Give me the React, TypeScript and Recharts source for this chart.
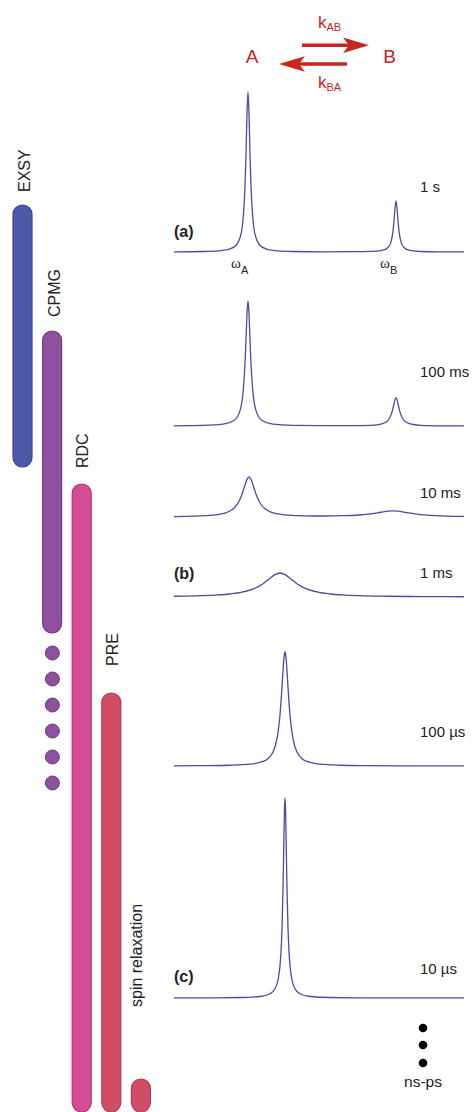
import React from 'react';
import {
  LineChart,
  Line,
  XAxis,
  YAxis,
  BarChart,
  Bar,
  Cell,
  ScatterChart,
  Scatter,
} from 'recharts';

// chemical shift grid (arbitrary units, 0..290) and intensity of each exchange regime
const shiftSlow = [0, 29, 49, 60, 66, 69, 71, 72, 73, 74, 75, 76, 77, 79, 82, 88, 99, 119, 150, 177, 197, 208, 214, 217, 219, 220, 221, 222, 223, 224, 225, 227, 230, 236, 247, 267, 290];
const int1s = [0.2, 0.5, 1.6, 4.9, 14.2, 32, 65.6, 97.6, 138, 160, 138, 97.6, 65.6, 32, 14.2, 4.9, 1.6, 0.5, 0.2, 0.3, 0.6, 1.6, 4.5, 10.2, 20.9, 31.1, 44, 51, 44, 31.1, 20.9, 10.2, 4.5, 1.6, 0.5, 0.2, 0.1];
const int100ms = [0.2, 0.55, 1.8, 5.5, 15.4, 33, 62.5, 86.5, 112.5, 125, 112.5, 86.5, 62.5, 33, 15.4, 5.5, 1.8, 0.6, 0.35, 0.3, 0.7, 2.1, 5.6, 10.9, 17.9, 22.4, 26.4, 28, 26.4, 22.4, 17.9, 10.9, 5.6, 2.1, 0.7, 0.2, 0.1];

const shift10ms = [0, 20, 35, 45, 53, 59, 63, 67, 70, 73, 75, 77, 80, 83, 87, 91, 97, 105, 115, 130, 150, 170, 185, 197, 207, 214, 219, 224, 231, 241, 253, 268, 290];
const int10ms = [0.45, 0.83, 1.54, 2.66, 4.7, 8, 12.3, 20, 28.8, 37.6, 40, 37.7, 29, 20.2, 12.5, 8.2, 4.9, 2.9, 1.8, 1.17, 1.0, 1.28, 2.0, 3.17, 4.75, 5.83, 6.1, 5.8, 4.7, 3.1, 1.86, 1.08, 0.6];

const shift1ms = [0, 21, 41, 56, 68, 78, 86, 91, 96, 101, 106, 111, 116, 121, 126, 134, 144, 156, 171, 191, 212, 236, 261, 290];
const int1ms = [0.75, 1.14, 1.9, 3.0, 4.8, 7.6, 11.4, 14.8, 18.8, 22.4, 24, 22.4, 18.8, 14.8, 11.4, 7.6, 4.8, 3.0, 1.9, 1.14, 0.75, 0.49, 0.35, 0.25];

const shift100us = [0, 31, 56, 76, 89, 96, 101, 104, 106, 108, 109, 110, 111, 112, 113, 114, 116, 118, 121, 126, 133, 146, 166, 191, 230, 290];
const int100us = [0.19, 0.36, 0.76, 1.85, 4.6, 9.4, 19.2, 33.3, 51, 78.9, 95.2, 108.6, 114, 108.6, 95.2, 78.9, 51, 33.3, 19.2, 9.4, 4.6, 1.85, 0.76, 0.36, 0.16, 0.07];

const shift10us = [0, 31, 66, 86, 96, 101, 104, 106, 107, 108, 109, 109.5, 110, 110.5, 111, 111.5, 112, 112.5, 113, 114, 115, 116, 118, 121, 126, 136, 156, 191, 290];
const int10us = [0.08, 0.15, 0.48, 1.5, 4.2, 9.2, 18, 32.4, 46.4, 70, 109.5, 136.5, 165.8, 190, 200, 190, 165.8, 136.5, 109.5, 70, 46.4, 32.4, 18, 9.2, 4.2, 1.5, 0.48, 0.15, 0.06];

const regimeLabels = ['1 s', '100 ms', '10 ms', '1 ms', '100 µs', '10 µs'];

// NMR methods and the timescale window they cover (vertical position, top = slow)
const methods = ['EXSY', 'CPMG', 'RDC', 'PRE', 'spin relaxation'];
const methodStart = [205, 331, 484, 693, 1079];
const methodEnd = [467, 633, 1112, 1112, 1112];
const cpmgExtension = [653, 679, 705, 731, 757, 783];

const SPEC_W = 290;
const SPEC_H = 210;
const LINE = '#4b4aa6';
const RED = '#c8261d';
const INK = '#222';
const FONT = '"Liberation Sans", Arial, sans-serif';
const SERIF = '"Liberation Serif", serif';

function Spectrum({ shift, intensity, baseline }: { shift: number[]; intensity: number[]; baseline: number }) {
  const data = shift.map((s, i) => ({ shift: s, intensity: intensity[i] }));
  return (
    <div style={{ position: 'absolute', left: 173, top: baseline - SPEC_H - 2 }}>
      <LineChart width={SPEC_W + 2} height={SPEC_H + 4} data={data} margin={{ top: 2, right: 1, bottom: 2, left: 1 }}>
        <XAxis type="number" dataKey="shift" domain={[0, SPEC_W]} hide />
        <YAxis type="number" domain={[0, SPEC_H]} hide />
        <Line type="monotone" dataKey="intensity" stroke={LINE} strokeWidth={1.3} dot={false} isAnimationActive={false} />
      </LineChart>
    </div>
  );
}

export default function App() {
  const spectra = [
    { shift: shiftSlow, intensity: int1s, baseline: 252, labelY: 192 },
    { shift: shiftSlow, intensity: int100ms, baseline: 426, labelY: 377 },
    { shift: shift10ms, intensity: int10ms, baseline: 517, labelY: 498 },
    { shift: shift1ms, intensity: int1ms, baseline: 597, labelY: 578 },
    { shift: shift100us, intensity: int100us, baseline: 766, labelY: 737 },
    { shift: shift10us, intensity: int10us, baseline: 998, labelY: 974 },
  ];

  const methodData = methods.map((m, i) => ({ method: m, span: [methodStart[i], methodEnd[i]] }));
  const barFill = ['#4f58a8', '#8e4f9c', '#d24d93', '#d04f66', '#d04f66'];
  const barStroke = ['#3d4592', '#763c85', '#c62a80', '#bb3a54', '#bb3a54'];
  const cpmgSlot = methods.indexOf('CPMG') + 0.5;
  const dotData = cpmgExtension.map((p) => ({ slot: cpmgSlot, pos: p }));

  const methodLabels = [
    { x: 30, y: 192 },
    { x: 60, y: 317 },
    { x: 88, y: 468 },
    { x: 118, y: 666 },
    { x: 142, y: 1007 },
  ];

  return (
    <div style={{ position: 'absolute', left: 0, top: 0, width: 472, height: 1112, background: '#fff', overflow: 'hidden' }}>
      <div style={{ position: 'absolute', left: 8, top: 0 }}>
        <BarChart width={148} height={1112} data={methodData} margin={{ top: 0, right: 0, bottom: 0, left: 0 }} barSize={19}>
          <XAxis dataKey="method" hide />
          <YAxis type="number" domain={[0, 1112]} reversed hide />
          <Bar dataKey="span" radius={9.5} isAnimationActive={false}>
            {methodData.map((d, i) => (
              <Cell key={d.method} fill={barFill[i]} stroke={barStroke[i]} strokeWidth={1.2} />
            ))}
          </Bar>
        </BarChart>
      </div>
      <div style={{ position: 'absolute', left: 8, top: 0 }}>
        <ScatterChart width={148} height={1112} margin={{ top: 0, right: 0, bottom: 0, left: 0 }}>
          <XAxis type="number" dataKey="slot" domain={[0, methods.length]} hide />
          <YAxis type="number" dataKey="pos" domain={[0, 1112]} reversed hide />
          <Scatter
            data={dotData}
            isAnimationActive={false}
            shape={(p: any) => <circle cx={p.cx} cy={p.cy} r={7} fill="#8e4f9c" stroke="#6f3a80" strokeWidth={1} />}
          />
        </ScatterChart>
      </div>

      {spectra.map((s, i) => (
        <Spectrum key={i} shift={s.shift} intensity={s.intensity} baseline={s.baseline} />
      ))}

      <svg width={472} height={1112} style={{ position: 'absolute', left: 0, top: 0, pointerEvents: 'none' }} fontFamily={FONT}>
        {methods.map((m, i) => (
          <text key={m} transform={`translate(${methodLabels[i].x},${methodLabels[i].y}) rotate(-90)`} fontSize={16} fill={INK}>
            {m}
          </text>
        ))}

        {/* exchange scheme */}
        <text x={252} y={63} fontSize={19} textAnchor="middle" fill={RED}>A</text>
        <text x={389.5} y={63} fontSize={19} textAnchor="middle" fill={RED}>B</text>
        <text x={318} y={28} fontSize={17} fill={RED}>
          k<tspan fontSize={11} dy={3}>AB</tspan>
        </text>
        <text x={318} y={88} fontSize={17} fill={RED}>
          k<tspan fontSize={11} dy={3}>BA</tspan>
        </text>
        <line x1={302} y1={45.3} x2={352} y2={45.3} stroke={RED} strokeWidth={3.6} />
        <path d="M369,45.3 L343,37.5 L349,45.3 L343,53 Z" fill={RED} />
        <line x1={298} y1={64} x2={347} y2={64} stroke={RED} strokeWidth={3.6} />
        <path d="M279,64 L305,56.3 L299,64 L305,71.7 Z" fill={RED} />

        {/* peak labels */}
        <text x={231} y={268} fontSize={15} fill={INK} fontFamily={SERIF}>
          ω<tspan fontSize={11} dy={6} fontFamily={FONT}>A</tspan>
        </text>
        <text x={380} y={268} fontSize={15} fill={INK} fontFamily={SERIF}>
          ω<tspan fontSize={11} dy={6} fontFamily={FONT}>B</tspan>
        </text>

        {spectra.map((s, i) => (
          <text key={regimeLabels[i]} x={420} y={s.labelY} fontSize={15} fill={INK}>
            {regimeLabels[i]}
          </text>
        ))}
        <text x={174} y={237} fontSize={16} fontWeight="bold" fill={INK}>(a)</text>
        <text x={174} y={579} fontSize={16} fontWeight="bold" fill={INK}>(b)</text>
        <text x={174} y={982} fontSize={16} fontWeight="bold" fill={INK}>(c)</text>

        <circle cx={423} cy={1028} r={4.3} fill="#000" />
        <circle cx={423} cy={1045} r={4.3} fill="#000" />
        <circle cx={423} cy={1063} r={4.3} fill="#000" />
        <text x={423} y={1087} fontSize={15.5} textAnchor="middle" fill={INK}>ns-ps</text>
      </svg>
    </div>
  );
}
